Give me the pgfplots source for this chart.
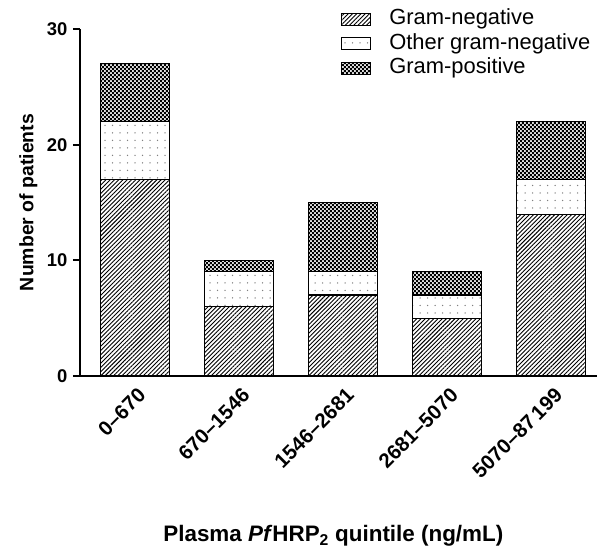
\documentclass[border=0pt]{standalone}
\usepackage{pgfplots}
\pgfplotsset{compat=1.18}
\usepackage{fontspec}
\setmainfont{Liberation Sans}
\usetikzlibrary{patterns,patterns.meta}

\tikzdeclarepattern{
  name=checkdots,
  type=uncolored,
  bounding box={(0bp,0bp) and (4.4bp,4.4bp)},
  tile size={(4.4bp,4.4bp)},
  code={
    \fill (0bp,0bp) rectangle (2.1bp,2.1bp);
    \fill (2.2bp,2.2bp) rectangle (4.3bp,4.3bp);
  }
}

\begin{document}
\begin{tikzpicture}
\begin{axis}[
  scale only axis,
  width=517bp, height=347bp,
  ybar stacked,
  bar width=69bp,
  xmin=-0.524, xmax=4.4375,
  ymin=0, ymax=30,
  ytick={0,10,20,30},
  xtick={0,1,2,3,4},
  xticklabels={0--670,670--1546,1546--2681,2681--5070,5070--87\,199},
  axis x line*=bottom,
  axis y line*=left,
  axis line style={line width=2bp},
  every tick/.style={line width=2bp, black},
  tick align=outside,
  major tick length=7bp,
  x tick style={draw=none},
  /pgf/number format/assume math mode=true,
  yticklabel style={font=\bfseries\fontsize{18.5}{20}\selectfont, xshift=-2bp},
  xticklabel style={font=\bfseries\fontsize{20.5}{22}\selectfont, rotate=45, anchor=north east, inner sep=1bp, yshift=-3bp},
  ylabel={Number of patients},
  ylabel style={font=\bfseries\fontsize{19.5}{22}\selectfont, at={(axis description cs:-0.1,0.5)}, anchor=center},
  xlabel={Plasma \textit{Pf}HRP\textsubscript{2} quintile (ng/mL)},
  xlabel style={font=\bfseries\fontsize{22.5}{26}\selectfont, at={(axis description cs:0.49,-0.46)}, anchor=center},
  legend style={draw=none, fill=none, at={(0.505,1.064)}, anchor=north west,
    font=\fontsize{22}{24}\selectfont, row sep=0bp, inner sep=0pt,
    nodes={inner xsep=0bp, inner ysep=2.25bp, text height=15.5bp, text depth=4.5bp}},
  legend cell align=left,
  legend image code/.code={\draw[#1, line width=1bp] (0bp,-6bp) rectangle (29bp,6bp);},
  legend style={/tikz/every odd column/.append style={column sep=18bp}},
]
\addplot[draw=black, line width=1.1bp, pattern={Lines[angle=45,distance=3bp,line width=0.9bp]}]
  coordinates {(0,17) (1,6) (2,7) (3,5) (4,14)};
\addplot[draw=black, line width=1.1bp, pattern={Dots[distance=7.5bp,radius=0.75bp]}, pattern color=gray]
  coordinates {(0,5) (1,3) (2,2) (3,2) (4,3)};
\addplot[draw=black, line width=1.1bp, preaction={fill=gray!25}, pattern=checkdots]
  coordinates {(0,5) (1,1) (2,6) (3,2) (4,5)};
\legend{Gram-negative, Other gram-negative, Gram-positive}
\coordinate (O) at (rel axis cs:0,0);
\coordinate (T) at (rel axis cs:1,1);
\end{axis}
\pgfresetboundingbox
\path (O) ++(-80bp,-177bp) coordinate (A);
\path (T) ++(0bp,29bp) coordinate (B);
\useasboundingbox (A) rectangle (B);
\end{tikzpicture}
\end{document}
